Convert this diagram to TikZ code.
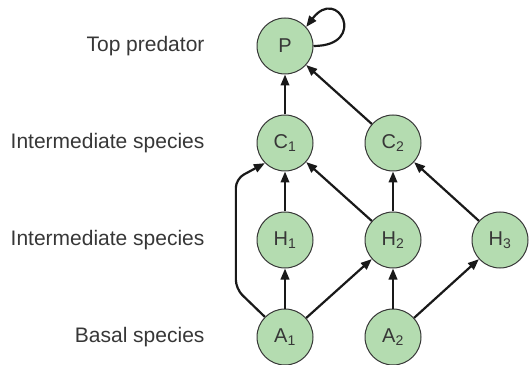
\documentclass[tikz,border=0pt]{standalone}
\usepackage{fontspec}
\setmainfont{Liberation Sans}
\usepackage{tikz}
\usetikzlibrary{arrows.meta}
\definecolor{leafgreen}{RGB}{180,220,176}
\definecolor{inkgray}{RGB}{55,55,55}

\begin{document}
\begin{tikzpicture}[x=1pt, y=1pt]
	\tikzstyle{species}=[circle, draw=inkgray, line width=1pt, fill=leafgreen, minimum size=56pt, inner sep=0pt, text=inkgray, font=\fontsize{20}{24}\selectfont]
	\tikzstyle{feed}=[draw=black!90, line width=2.2pt, -{Triangle[length=11pt,width=8.5pt]}]
	\tikzstyle{level}=[anchor=east, text=inkgray, font=\fontsize{21}{25}\selectfont]

	\useasboundingbox (0,0) rectangle (529,364);

	% Species
	\foreach \name/\x/\y/\lab in {P/285/318/P, C1/285/221/C\textsubscript{1}, C2/393/221/C\textsubscript{2},
			H1/285/124/H\textsubscript{1}, H2/393/124/H\textsubscript{2}, H3/500/124/H\textsubscript{3},
			A1/285/27/A\textsubscript{1}, A2/393/27/A\textsubscript{2}}
		\node[species] (\name) at (\x, \y) {\lab};

	% Feeding links
	\foreach \a/\b in {C1/P, C2/P, H1/C1, H2/C1, H2/C2, H3/C2, A1/H1, A1/H2, A2/H2, A2/H3}
		\draw[feed] (\a) -- (\b);

	% Omnivory link and cannibalism loop
	\draw[feed, rounded corners=9pt] (A1.135) -- ++(-29,28) -- ++(0,110) -- (C1.225);
	\draw[feed] (P.east) .. controls +(55,0) and +(32,42) .. (P.42);

	% Text
	\node[level] (top) at (208, 318) {Top predator};
	\node[level] (inter2) at (208, 221) {Intermediate species};
	\node[level] (inter1) at (208, 124) {Intermediate species};
	\node[level] (basal) at (208, 27) {Basal species};
\end{tikzpicture}
\end{document}
